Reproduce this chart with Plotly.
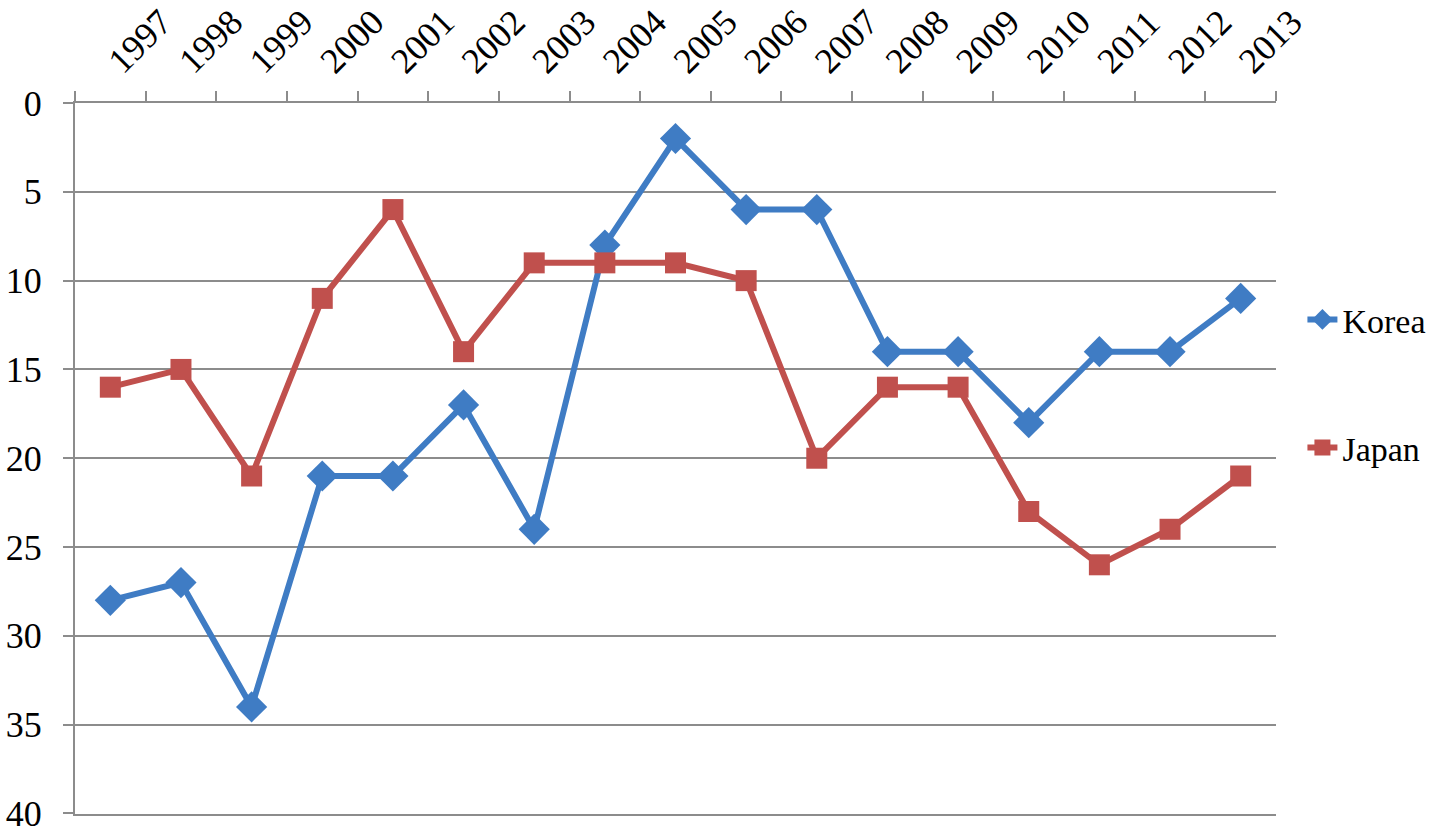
import plotly.graph_objects as go

years = ["1997", "1998", "1999", "2000", "2001", "2002", "2003", "2004", "2005",
         "2006", "2007", "2008", "2009", "2010", "2011", "2012", "2013"]
korea = [28, 27, 34, 21, 21, 17, 24, 8, 2, 6, 6, 14, 14, 18, 14, 14, 11]
japan = [16, 15, 21, 11, 6, 14, 9, 9, 9, 10, 20, 16, 16, 23, 26, 24, 21]
y_ticks = [0, 5, 10, 15, 20, 25, 30, 35, 40]

blue = "#3F7CC4"
red = "#C0504D"
axis_grey = "#8c8c8c"
font_family = "Liberation Serif"
tick_size = 36
legend_size = 34

fig = go.Figure()
fig.add_trace(go.Scatter(
    x=years, y=korea, name="Korea", mode="lines+markers",
    line=dict(color=blue, width=6),
    marker=dict(symbol="diamond", size=24, color=blue),
    legend="legend",
))
fig.add_trace(go.Scatter(
    x=years, y=japan, name="Japan", mode="lines+markers",
    line=dict(color=red, width=6),
    marker=dict(symbol="square", size=21, color=red),
    legend="legend2",
))

fig.update_layout(
    width=1433, height=829,
    showlegend=True,
    paper_bgcolor="white", plot_bgcolor="white",
    margin=dict(l=75, r=157, t=103, b=15, autoexpand=False),
    font=dict(family=font_family, size=tick_size, color="black"),
    legend=dict(x=1.022, xanchor="left", y=0.695, yanchor="middle",
                font=dict(size=legend_size, family=font_family), bgcolor="rgba(0,0,0,0)"),
    legend2=dict(x=1.022, xanchor="left", y=0.515, yanchor="middle",
                 font=dict(size=legend_size, family=font_family), bgcolor="rgba(0,0,0,0)"),
    xaxis=dict(
        type="category", side="top", tickangle=-45,
        tickson="boundaries", ticks="outside", ticklen=10, tickcolor=axis_grey,
        tickwidth=2, showline=True, linecolor=axis_grey, linewidth=2,
        mirror=True, showgrid=False, ticklabelstandoff=6,
        tickfont=dict(size=tick_size, family=font_family),
        range=[-0.5, 16.5], automargin=False, ticklabeloverflow="allow",
    ),
    yaxis=dict(
        range=[40.03, 0], tickmode="array", tickvals=y_ticks,
        ticktext=[str(v) for v in y_ticks],
        ticks="outside", ticklen=10,
        tickcolor=axis_grey, tickwidth=2, showline=True, linecolor=axis_grey,
        linewidth=2, showgrid=True, gridcolor=axis_grey, gridwidth=2,
        zeroline=False, ticklabelstandoff=14, automargin=False,
        ticklabeloverflow="allow",
        tickfont=dict(size=tick_size, family=font_family),
    ),
)

fig.write_html("out.html", config={"displayModeBar": False},
               post_script="document.body.style.margin='0';")
